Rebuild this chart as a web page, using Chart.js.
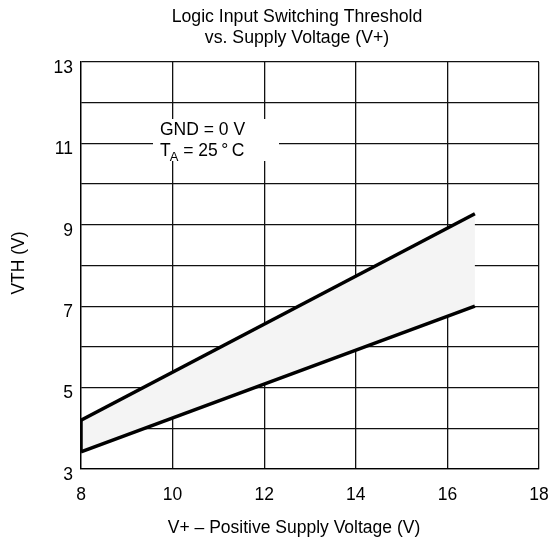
<!DOCTYPE html>
<html><head><meta charset="utf-8">
<script src="https://cdn.jsdelivr.net/npm/chart.js@4"></script>
<style>html,body{margin:0;padding:0;background:#fff}#wrap{width:548px;height:543px}</style>
</head><body><div id="wrap"><canvas id="c" width="548" height="543"></canvas></div>
<script>
const supplyV = [8, 16.6];
const vthHigh = [4.2, 9.27];
const vthLow = [3.42, 7.0];
const xTicks = [8, 10, 12, 14, 16, 18];
const yTickLabels = [3, 5, 7, 9, 11, 13];
const titleLines = ['Logic Input Switching Threshold', 'vs. Supply Voltage (V+)'];
const xTitle = 'V+ \u2013 Positive Supply Voltage (V)';
const yTitle = 'VTH (V)';

const FONT = '"Liberation Sans", Arial, sans-serif';
const FS = 17.5;

const textPlugin = {
  id: 'texts',
  beforeDatasetsDraw(chart) {
    const ctx = chart.ctx;
    ctx.save();
    ctx.fillStyle = '#fff';
    ctx.fillRect(153, 119, 126, 42);
    ctx.restore();
  },
  afterDraw(chart) {
    const ctx = chart.ctx;
    ctx.save();
    ctx.fillStyle = '#000';
    ctx.textBaseline = 'middle';
    ctx.textAlign = 'center';
    ctx.font = '17.7px ' + FONT;
    ctx.fillText(titleLines[0], 297, 17);
    ctx.fillText(titleLines[1], 297, 38);
    ctx.font = FS + 'px ' + FONT;
    ctx.fillText(xTitle, 294, 528);
    ctx.save();
    ctx.translate(19, 263);
    ctx.rotate(-Math.PI / 2);
    ctx.fillText(yTitle, 0, 0);
    ctx.restore();
    ctx.textAlign = 'left';
    ctx.fillText('GND = 0 V', 160, 130);
    ctx.fillText('T', 160, 151);
    const tw = ctx.measureText('T').width;
    ctx.font = '13px ' + FONT;
    ctx.fillText('A', 160 + tw - 1, 157);
    const aw = ctx.measureText('A').width;
    ctx.font = FS + 'px ' + FONT;
    ctx.fillText(' = 25\u2009\u00B0\u2009C', 160 + tw - 1 + aw, 151);
    ctx.restore();
  }
};

new Chart(document.getElementById('c'), {
  type: 'scatter',
  data: {
    datasets: [
      {
        label: 'high',
        data: supplyV.map((x, i) => ({x, y: vthHigh[i]})),
        showLine: true, borderColor: '#000', borderWidth: 3.5, pointRadius: 0,
        fill: '+1', backgroundColor: '#f4f4f4'
      },
      {
        label: 'low',
        data: supplyV.map((x, i) => ({x, y: vthLow[i]})),
        showLine: true, borderColor: '#000', borderWidth: 3.5, pointRadius: 0, fill: false
      },
      {
        label: 'edge',
        data: [{x: supplyV[0], y: vthLow[0]}, {x: supplyV[0], y: vthHigh[0]}],
        showLine: true, borderColor: '#000', borderWidth: 3.5, pointRadius: 0, fill: false
      }
    ]
  },
  options: {
    responsive: false, animation: false,
    layout: {padding: {left: 0, right: 0, top: 62, bottom: 34}},
    plugins: {legend: {display: false}, tooltip: {enabled: false}, title: {display: false},
      filler: {drawTime: 'beforeDatasetsDraw'}},
    scales: {
      x: {
        type: 'linear', min: 8, max: 18,
        afterBuildTicks(s) { s.ticks = xTicks.map(v => ({value: v})); },
        afterFit(s) { s.height = 40; s.paddingRight = 9; s.paddingLeft = 0; },
        grid: {color: '#111', lineWidth: 1.3, drawTicks: false},
        border: {color: '#000', width: 1.3},
        ticks: {color: '#000', font: {family: FONT, size: FS}, padding: 16, maxRotation: 0}
      },
      y: {
        type: 'linear', min: 3, max: 13,
        ticks: {
          stepSize: 1, color: '#000', font: {family: FONT, size: FS}, padding: 8, labelOffset: 6,
          callback: v => yTickLabels.includes(v) ? String(v) : ''
        },
        afterFit(s) { s.width = 81; },
        grid: {color: '#111', lineWidth: 1.3, drawTicks: false},
        border: {color: '#000', width: 1.3}
      }
    }
  },
  plugins: [textPlugin]
});
</script></body></html>
